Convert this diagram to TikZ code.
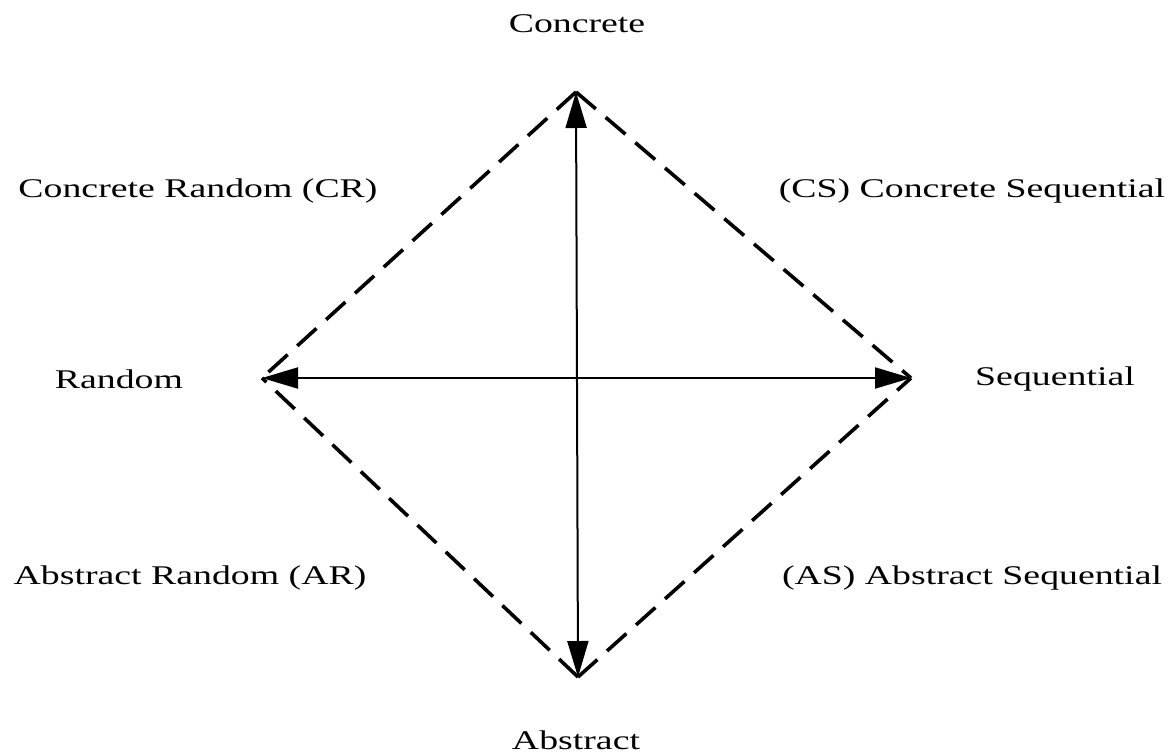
\documentclass[tikz,border=0pt]{standalone}
\usepackage{fontspec}
\setmainfont{Liberation Serif}[FakeStretch=1.4]
\usetikzlibrary{arrows.meta}
\begin{document}
\begin{tikzpicture}[x=1pt,y=-1pt,
  lbl/.style={font=\fontsize{27}{31}\selectfont, inner sep=0pt},
  edge/.style={line width=3.6pt, dash pattern=on 26pt off 13pt, line cap=butt},
  axis/.style={line width=2pt, {Triangle[length=36pt,width=21pt]}-{Triangle[length=36pt,width=21pt]}}]
\useasboundingbox (0,0) rectangle (1175,755);
\coordinate (top) at (576,92);
\coordinate (bot) at (578,677);
\coordinate (lft) at (262,378);
\coordinate (rgt) at (911,378);
\draw[edge] (top) -- (rgt);
\draw[edge] (top) -- (lft);
\draw[edge] (bot) -- (rgt);
\draw[edge] (bot) -- (lft);
\draw[axis] (top) -- (bot);
\draw[axis] (lft) -- (rgt);
\node[lbl] (nc) at (577,24) {Concrete};
\node[lbl] (na) at (576,740) {Abstract};
\node[lbl] (nr) at (119,379) {Random};
\node[lbl] (ns) at (1055,379) {Sequential};
\node[lbl] (ncr) at (198,191) {Concrete Random (CR)};
\node[lbl] (ncs) at (972,191) {(CS) Concrete Sequential};
\node[lbl] (nar) at (190,578) {Abstract Random (AR)};
\node[lbl] (nas) at (972,578) {(AS) Abstract Sequential};
\end{tikzpicture}
\end{document}
